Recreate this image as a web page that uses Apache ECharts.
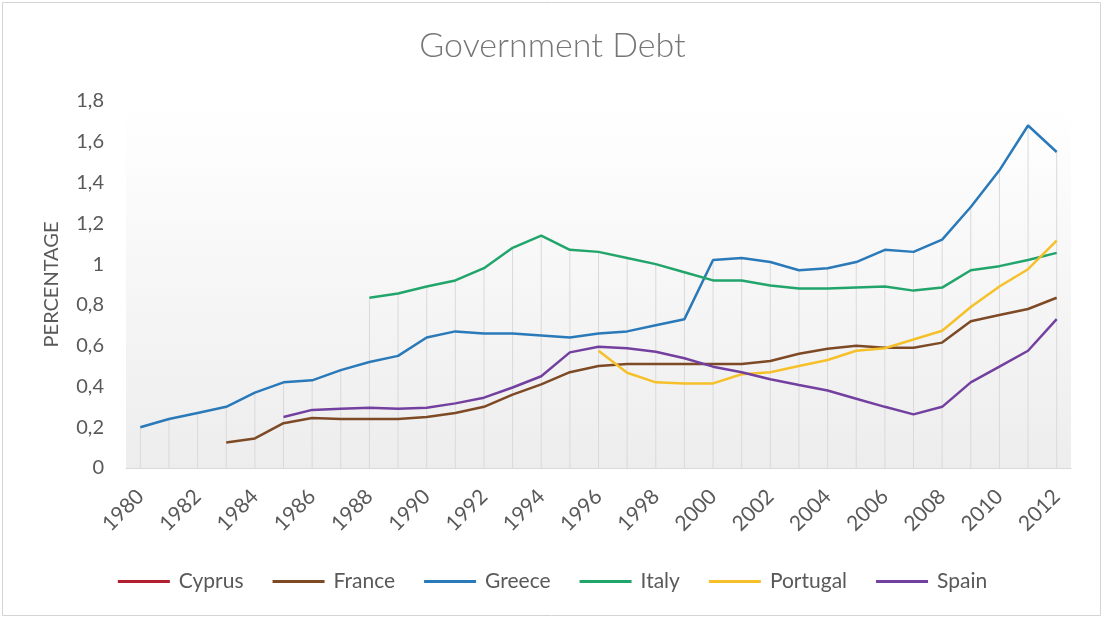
<!DOCTYPE html>
<html>
<head>
<meta charset="utf-8">
<script src="https://cdn.jsdelivr.net/npm/echarts@6/dist/echarts.min.js"></script>
<style>
  html, body { margin: 0; padding: 0; background: #ffffff; }
  #chart { width: 1105px; height: 619px; }
</style>
</head>
<body>
<div id="chart"></div>
<script>
// Government debt as a share of GDP, 1980-2012
const years = [];
for (let y = 1980; y <= 2012; y++) years.push(String(y));

const cyprus = [null, null, null, null, null, null, null, null, null, null, null,
  null, null, null, null, null, null, null, null, null, null, null, null, null,
  null, null, null, null, null, null, null, null, null];
const france = [null, null, null, 0.125, 0.145, 0.22, 0.245, 0.24, 0.24, 0.24, 0.25,
  0.27, 0.30, 0.36, 0.41, 0.47, 0.50, 0.51, 0.51, 0.51, 0.51, 0.51, 0.525,
  0.56, 0.585, 0.60, 0.59, 0.59, 0.615, 0.72, 0.75, 0.78, 0.835];
const greece = [0.20, 0.24, 0.27, 0.30, 0.37, 0.42, 0.43, 0.48, 0.52, 0.55, 0.64,
  0.67, 0.66, 0.66, 0.65, 0.64, 0.66, 0.67, 0.70, 0.73, 1.02, 1.03, 1.01,
  0.97, 0.98, 1.01, 1.07, 1.06, 1.12, 1.28, 1.46, 1.68, 1.55];
const italy = [null, null, null, null, null, null, null, null, 0.835, 0.856, 0.89,
  0.92, 0.98, 1.08, 1.14, 1.07, 1.06, 1.03, 1.00, 0.96, 0.92, 0.92, 0.895,
  0.88, 0.88, 0.885, 0.89, 0.87, 0.885, 0.97, 0.99, 1.02, 1.055];
const portugal = [null, null, null, null, null, null, null, null, null, null, null,
  null, null, null, null, null, 0.575, 0.467, 0.42, 0.415, 0.415, 0.46, 0.47,
  0.50, 0.53, 0.575, 0.587, 0.63, 0.673, 0.79, 0.89, 0.975, 1.115];
const spain = [null, null, null, null, null, 0.25, 0.285, 0.29, 0.295, 0.29, 0.295,
  0.317, 0.345, 0.395, 0.45, 0.567, 0.595, 0.587, 0.57, 0.538, 0.497, 0.47, 0.435,
  0.407, 0.38, 0.34, 0.30, 0.263, 0.30, 0.42, 0.497, 0.575, 0.73];

const countries = ['Cyprus', 'France', 'Greece', 'Italy', 'Portugal', 'Spain'];
const seriesValues = [cyprus, france, greece, italy, portugal, spain];
const colors = ['#b0202e', '#7e4a26', '#2a79b9', '#22a56b', '#f5c02a', '#7340a0'];

// Drop lines reach from the axis up to the highest point of each year
const dropTops = years.map((_, i) => {
  let m = null;
  seriesValues.forEach(s => { if (s[i] != null && (m == null || s[i] > m)) m = s[i]; });
  return m;
});

const textColor = '#595959';
const font = 'Lato, "Open Sans", sans-serif';

const chart = echarts.init(document.getElementById('chart'));
chart.setOption({
  animation: false,
  color: colors,
  graphic: [{
    type: 'rect', silent: true,
    shape: { x: 2.5, y: 2.5, width: 1098, height: 613 },
    style: { fill: 'none', stroke: '#d4d4d4', lineWidth: 1 }
  }],
  title: {
    text: 'Government Debt',
    left: 'center', top: 24,
    textStyle: { fontFamily: font, fontSize: 34, fontWeight: 300, color: '#767676' }
  },
  legend: {
    data: countries,
    bottom: 22,
    left: 'center',
    itemWidth: 52, itemHeight: 3, itemGap: 29,
    icon: 'rect',
    textStyle: { fontFamily: font, fontSize: 21, color: textColor, padding: [0, 0, 0, 4] }
  },
  grid: {
    left: 126, right: 34, top: 101, bottom: 151,
    show: true, borderWidth: 0,
    backgroundColor: new echarts.graphic.LinearGradient(0, 0, 0, 1, [
      { offset: 0, color: '#ffffff' },
      { offset: 0.12, color: '#fdfdfd' },
      { offset: 1, color: '#ededed' }
    ])
  },
  xAxis: {
    type: 'category',
    data: years,
    boundaryGap: true,
    axisTick: { show: false },
    axisLine: { lineStyle: { color: '#d9d9d9', width: 1 } },
    axisLabel: {
      interval: 1, rotate: 45, margin: 25,
      fontFamily: font, fontSize: 21, color: textColor
    }
  },
  yAxis: {
    type: 'value',
    min: 0, max: 1.8, interval: 0.2,
    name: 'PERCENTAGE',
    nameLocation: 'middle', nameRotate: 90, nameGap: 64,
    nameTextStyle: { fontFamily: font, fontSize: 20, color: textColor },
    axisLine: { show: false },
    axisTick: { show: false },
    splitLine: { show: false },
    axisLabel: {
      margin: 22, fontFamily: font, fontSize: 20, color: textColor,
      formatter: v => String(Math.round(v * 10) / 10).replace('.', ',')
    }
  },
  series: [{
    type: 'bar',
    name: 'drop',
    data: dropTops,
    barWidth: 1,
    silent: true,
    itemStyle: { color: '#d9d9d9' },
    z: 1
  }].concat(countries.map((name, k) => ({
    type: 'line',
    name: name,
    data: seriesValues[k],
    symbol: 'none',
    connectNulls: false,
    lineStyle: { width: 2.5, color: colors[k] },
    itemStyle: { color: colors[k] },
    z: 3
  })))
});
</script>
</body>
</html>
